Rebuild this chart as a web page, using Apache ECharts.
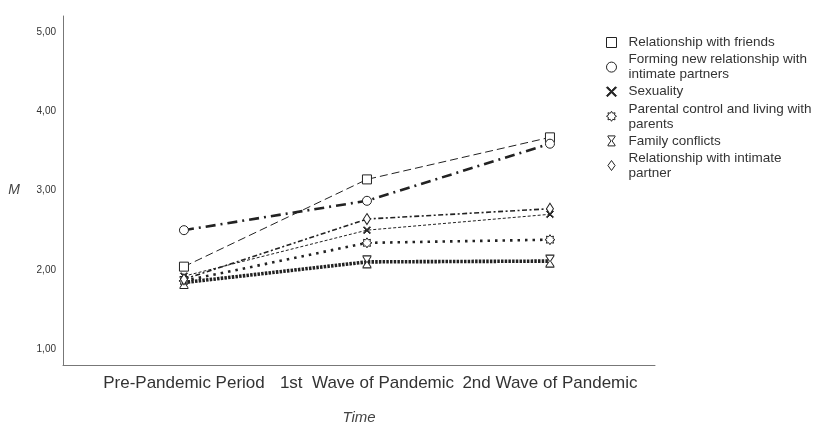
<!DOCTYPE html>
<html><head><meta charset="utf-8">
<script src="https://cdn.jsdelivr.net/npm/echarts@6/dist/echarts.min.js"></script>
<style>html,body{margin:0;padding:0;background:#fff}#c{width:815px;height:426px}</style>
</head><body><div id="c"></div>
<script>
const categories = ['Pre-Pandemic Period', '1st  Wave of Pandemic', '2nd Wave of Pandemic'];
const yTicks = [1, 2, 3, 4, 5];
const seriesNames = [
  'Relationship with friends',
  'Forming new relationship with\nintimate partners',
  'Sexuality',
  'Parental control and living with\nparents',
  'Family conflicts',
  'Relationship with intimate\npartner'
];
const friends = [2.04, 3.14, 3.67];
const formingNew = [2.50, 2.87, 3.59];
const sexuality = [1.92, 2.50, 2.70];
const parental = [1.86, 2.34, 2.38];
const family = [1.84, 2.10, 2.11];
const intimate = [1.88, 2.64, 2.77];

const X_PATH = 'path://M0,1 L1,0 L5,4 L9,0 L10,1 L6,5 L10,9 L9,10 L5,6 L1,10 L0,9 L4,5 Z';
const HOURGLASS = 'path://M0,0 L10,0 L10,1 L5.8,7 L10,13 L10,14 L0,14 L0,13 L4.2,7 L0,1 Z';
const GEAR = (function(){
  let p = 'path://';
  const n = 8;
  for (let i = 0; i < n * 2; i++) {
    const a = Math.PI * i / n;
    const r = i % 2 === 0 ? 10 : 6.5;
    const x = (10 + r * Math.sin(a)).toFixed(2), y = (10 - r * Math.cos(a)).toFixed(2);
    p += (i === 0 ? 'M' : 'L') + x + ',' + y + ' ';
  }
  return p + 'Z';
})();
const DIAMOND = 'path://M5,0 L10,7 L5,14 L0,7 Z';

const values = [friends, formingNew, sexuality, parental, family, intimate];
const symbols = ['rect', 'circle', X_PATH, GEAR, HOURGLASS, DIAMOND];
const symSizes = [[9,9], 9, [7,7], [10,10], [8,12], [7,11]];
const fills = ['#fff', '#fff', '#222', '#fff', '#fff', '#fff'];
const dashes = [[8,4], [10,5,2,5], [3,2], [2.5,5], [2.5,1.2], [5,2.5,2,2.5]];
const widths = [1, 2.6, 1, 2.6, 3.6, 1.6];

const series = seriesNames.map((name, i) => ({
  name, type: 'line',
  data: values[i].map((v, j) => [j, v]),
  symbol: symbols[i], symbolSize: symSizes[i],
  itemStyle: { color: fills[i], borderColor: '#222', borderWidth: 1 },
  lineStyle: { color: '#222', width: widths[i], type: dashes[i] },
  z: 2 + i
}));

const chart = echarts.init(document.getElementById('c'), null, { renderer: 'canvas' });
chart.setOption({
  animation: false,
  backgroundColor: '#fff',
  textStyle: { fontFamily: 'Liberation Sans, Arial, sans-serif' },
  grid: { left: 63, right: 160, top: 16, bottom: 61, containLabel: false, outerBoundsMode: 'none' },
  xAxis: {
    type: 'value', min: -0.661, max: 2.574,
    name: 'Time', nameLocation: 'middle', nameGap: 45,
    nameTextStyle: { fontStyle: 'italic', fontSize: 15, color: '#444' },
    axisLine: { onZero: false, lineStyle: { color: '#777' } },
    axisTick: { show: false },
    splitLine: { show: false },
    axisLabel: { customValues: [0, 1, 2], formatter: v => categories[Math.round(v)], fontSize: 17, color: '#333', margin: 10 }
  },
  yAxis: {
    type: 'value', min: 0.8, max: 5.2, interval: 0.2,
    name: 'M', nameLocation: 'middle', nameGap: 43, nameRotate: 0,
    nameTextStyle: { fontStyle: 'italic', fontSize: 14, color: '#444' },
    axisLine: { show: true, onZero: false, lineStyle: { color: '#777' } },
    axisTick: { show: false },
    splitLine: { show: false },
    axisLabel: {
      customValues: yTicks,
      formatter: v => v.toFixed(2).replace('.', ','), fontSize: 10, color: '#333', margin: 7
    }
  },
  legend: {
    orient: 'vertical', left: 601, top: 30,
    itemWidth: 10, itemHeight: 10, itemGap: 2.1,
    textStyle: { fontSize: 13.5, lineHeight: 15, color: '#333', padding: [0, 0, 0, 7] },
    data: seriesNames.map((n, i) => ({ name: n, icon: symbols[i] })),
    itemStyle: { borderWidth: 1 },
    lineStyle: { width: 0 }
  },
  series
});
</script></body></html>
